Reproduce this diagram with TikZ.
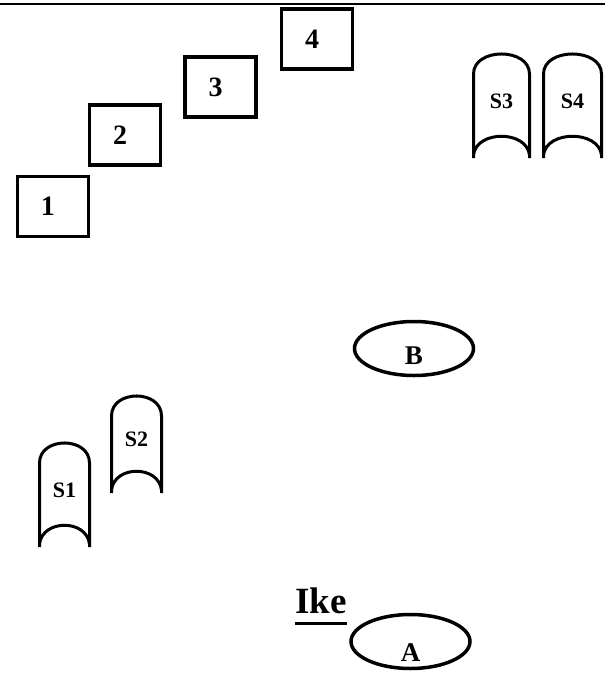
\documentclass[tikz,border=0pt]{standalone}
\usepackage{fontspec}
\setmainfont{Liberation Serif}
\usetikzlibrary{shapes.geometric, positioning}

\tikzset{
  roombox/.style={draw, line width=3.5pt, minimum width=71pt, minimum height=60pt, inner sep=0pt},
  numtext/.style={font=\bfseries\fontsize{28}{30}\selectfont, inner sep=0pt},
  seatline/.style={line width=3pt},
  seattext/.style={font=\bfseries\fontsize{22}{24}\selectfont, inner sep=0pt},
  tableoval/.style={draw, ellipse, line width=3.5pt, minimum width=119pt, minimum height=54pt, inner sep=0pt},
  tabletext/.style={font=\bfseries\fontsize{27}{29}\selectfont, inner sep=0pt},
  iketext/.style={font=\bfseries\fontsize{37}{39}\selectfont, inner sep=0pt}
}

% seat: name, left, top, right, bottom, text
\newcommand{\seatshape}[6]{%
  \draw[seatline] (#2,#5) -- (#2,#3+20) .. controls (#2,#3-6.7) and (#4,#3-6.7) .. (#4,#3+20) -- (#4,#5)
    (#4,#5-3) .. controls (#4-3,#5-28) and (#2+3,#5-28) .. (#2,#5-3);
  \node[seattext] (#1) at ({(#2+#4)/2},{(#3+#5)/2-5}) {#6};
}

\begin{document}
\begin{tikzpicture}[x=1pt, y=-1pt]
  \useasboundingbox (0,0) rectangle (605,673);

  % rule along the top
  \coordinate (ruleL) at (0,4);
  \coordinate (ruleR) at (605,4);
  \draw[line width=2.5pt] (ruleL) -- (ruleR);

  % numbered boxes
  \foreach \n/\x/\y in {1/53/206.5, 2/125/135, 3/220.5/87, 4/317/39}{
    \node[roombox] (box\n) at (\x,\y) {};
    \node[numtext] (num\n) at ([xshift=-5pt]box\n.center) {\n};
  }

  % seats
  \seatshape{s1}{39.5}{443}{89.5}{547}{S1}
  \seatshape{s2}{111.5}{396}{161.5}{493}{S2}
  \seatshape{s3}{473.5}{54}{529.5}{158}{S3}
  \seatshape{s4}{543.5}{54}{601.5}{158}{S4}

  % tables
  \node[tableoval] (tabB) at (414,348.5) {};
  \node[tabletext] (labB) at ([yshift=-7pt]tabB.center) {B};
  \node[tableoval] (tabA) at (410.5,641.5) {};
  \node[tabletext] (labA) at ([yshift=-11pt]tabA.center) {A};

  % heading with its underline
  \node[iketext, anchor=base] (ike) at (321,613) {Ike};
  \draw[line width=3pt] ([yshift=-10.5pt]ike.base west) -- ([yshift=-10.5pt]ike.base east);
\end{tikzpicture}
\end{document}
